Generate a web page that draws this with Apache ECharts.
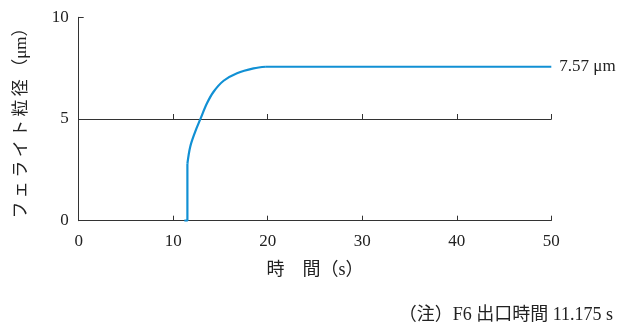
<!DOCTYPE html>
<html><head><meta charset="utf-8">
<script src="https://cdn.jsdelivr.net/npm/echarts@6/dist/echarts.min.js"></script>
<style>html,body{margin:0;padding:0;background:#fff}#c{width:640px;height:336px}</style>
</head><body><div id="c"></div>
<script>
const riseX = [11.175, 11.5, 11.5];
const riseY = [0, 0, 2.8];
const curveX = [11.5, 11.8, 12.33, 12.86, 13.57, 14.27, 15.33, 16.75, 18.5, 19.8];
const curveY = [2.8, 3.64, 4.38, 4.98, 5.77, 6.34, 6.88, 7.25, 7.49, 7.57];
const flatX = [19.8, 50];
const flatY = [7.57, 7.57];
const xTicks = [0, 10, 20, 30, 40, 50];
const yTicks = [0, 5, 10];
const endText = '7.57 μm';
const xName = '時　間（s）';
const yName = 'フ\u2009ェ\u2009ラ\u2009イ\u2009ト\u2009粒\u2009径\u2009（μm）';
const note = '（注）F6 出口時間 11.175 s';

const font = "'Liberation Serif','Noto Sans CJK JP',serif";
const axisCol = '#333';
const lineCol = '#1190d4';
const txtCol = '#222';
const chart = echarts.init(document.getElementById('c'));
const xBase = {
  type: 'value', min: xTicks[0], max: xTicks[xTicks.length-1], interval: 10,
  axisLine: {show: true, lineStyle: {color: axisCol, width: 1}},
  axisTick: {show: true, inside: true, length: 5, lineStyle: {color: axisCol}},
  splitLine: {show: false}
};
chart.setOption({
  animation: false,
  grid: {left: 78.7, right: 88.7, top: 17.3, bottom: 115.3},
  xAxis: [
    Object.assign({}, xBase, {
      position: 'bottom',
      name: xName, nameLocation: 'middle', nameGap: 41,
      nameTextStyle: {fontFamily: font, fontSize: 18, color: txtCol},
      axisLabel: {fontFamily: font, fontSize: 17, color: txtCol, margin: 12}
    }),
    Object.assign({}, xBase, {
      position: 'bottom', offset: -101.7,
      axisLabel: {show: false}
    })
  ],
  yAxis: {
    type: 'value', min: yTicks[0], max: yTicks[yTicks.length-1], interval: 5,
    axisLine: {show: true, lineStyle: {color: axisCol, width: 1}},
    axisTick: {show: true, inside: true, length: 5, lineStyle: {color: axisCol}},
    splitLine: {show: false},
    axisLabel: {fontFamily: font, fontSize: 17, color: txtCol, margin: 10},
    name: yName, nameLocation: 'middle', nameGap: 49, nameRotate: 90,
    nameTextStyle: {fontFamily: font, fontSize: 17, color: txtCol}
  },
  series: [
    {type: 'line', data: riseX.map((x,i)=>[x, riseY[i]]),
     showSymbol: false, symbol: 'none', lineStyle: {color: lineCol, width: 2.2}},
    {type: 'line', data: curveX.map((x,i)=>[x, curveY[i]]),
     showSymbol: false, symbol: 'none', smooth: 0.35,
     lineStyle: {color: lineCol, width: 2.2}},
    {type: 'line', data: flatX.map((x,i)=>[x, flatY[i]]),
     showSymbol: false, symbol: 'none',
     lineStyle: {color: lineCol, width: 2.2},
     endLabel: {show: true, formatter: endText, distance: 8, fontFamily: font, fontSize: 17, color: txtCol}}
  ],
  graphic: [{type: 'text', right: 27, top: 306,
    style: {text: note, fontFamily: font, fontSize: 18, fill: txtCol}}]
});
</script></body></html>
